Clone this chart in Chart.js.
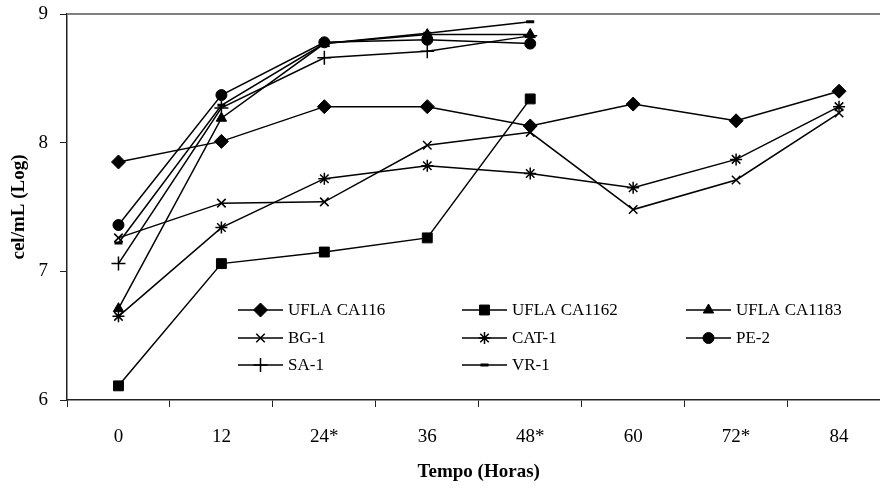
<!DOCTYPE html>
<html>
<head>
<meta charset="utf-8">
<title>cel/mL (Log)</title>
<script src="https://cdn.jsdelivr.net/npm/chart.js@4"></script>
<style>
  html, body { margin: 0; padding: 0; background: #fff; overflow: hidden; }
  #wrap { width: 880px; height: 491px; overflow: hidden; }
</style>
</head>
<body>
<div id="wrap"><canvas id="growth-chart" width="899" height="491"></canvas></div>
<script>
// sampling times (h)
var tempos = ['0', '12', '24*', '36', '48*', '60', '72*', '84'];
var yTicks = [6, 7, 8, 9];

var ufla116 = [7.85, 8.01, 8.28, 8.28, 8.13, 8.30, 8.17, 8.40];
var ufla1162 = [6.11, 7.06, 7.15, 7.26, 8.34, null, null, null];
var ufla1183 = [6.71, 8.19, 8.77, 8.84, 8.84, null, null, null];
var bg1 = [7.26, 7.53, 7.54, 7.98, 8.08, 7.48, 7.71, 8.23];
var cat1 = [6.65, 7.34, 7.72, 7.82, 7.76, 7.65, 7.87, 8.28];
var pe2 = [7.36, 8.37, 8.78, 8.80, 8.77, null, null, null];
var sa1 = [7.06, 8.27, 8.66, 8.71, 8.83, null, null, null];
var vr1 = [7.22, 8.29, 8.77, 8.85, 8.94, null, null, null];

var serif = "'Liberation Serif', 'Times New Roman', serif";

function serie(label, values, style, radius, bw) {
  return {
    label: label,
    data: values,
    borderColor: '#000',
    backgroundColor: '#000',
    borderWidth: 1.5,
    tension: 0,
    pointStyle: style,
    pointRadius: radius,
    pointBorderWidth: bw,
    pointBackgroundColor: '#000',
    pointBorderColor: '#000'
  };
}

var datasets = [
  serie('UFLA CA116', ufla116, 'rectRot', 7, 1),
  serie('UFLA CA1162', ufla1162, 'rect', 7, 1),
  serie('UFLA CA1183', ufla1183, 'triangle', 6, 1),
  serie('BG-1', bg1, 'crossRot', 6, 1.5),
  serie('CAT-1', cat1, 'star', 6, 1.5),
  serie('PE-2', pe2, 'circle', 5.5, 1),
  serie('SA-1', sa1, 'cross', 7, 1.5),
  serie('VR-1', vr1, 'line', 4, 3)
];

// gray frame line along the top of the plot
var topLine = {
  id: 'topLine',
  beforeDatasetsDraw: function (chart) {
    var ctx = chart.ctx, a = chart.chartArea;
    ctx.save();
    ctx.strokeStyle = '#808080';
    ctx.lineWidth = 2;
    ctx.beginPath();
    ctx.moveTo(a.left, a.top);
    ctx.lineTo(a.right, a.top);
    ctx.stroke();
    ctx.restore();
  }
};

// legend inside the plot, three columns
var boxLegend = {
  id: 'boxLegend',
  afterDraw: function (chart) {
    var ctx = chart.ctx;
    var colX = [238, 462, 686];
    var rowY = [310, 338, 365];
    ctx.save();
    ctx.font = '17px ' + serif;
    ctx.textBaseline = 'middle';
    chart.data.datasets.forEach(function (ds, i) {
      var x = colX[i % 3], y = rowY[Math.floor(i / 3)];
      ctx.strokeStyle = '#000';
      ctx.fillStyle = '#000';
      ctx.lineWidth = 1.5;
      ctx.beginPath();
      ctx.moveTo(x, y);
      ctx.lineTo(x + 45, y);
      ctx.stroke();
      ctx.lineWidth = ds.pointBorderWidth;
      Chart.helpers.drawPoint(ctx, {
        pointStyle: ds.pointStyle,
        radius: ds.pointRadius,
        borderWidth: ds.pointBorderWidth,
        rotation: 0
      }, x + 22.5, y);
      ctx.fillStyle = '#000';
      ctx.fillText(ds.label, x + 50, y + 1);
    });
    ctx.restore();
  }
};

var chart = new Chart(document.getElementById('growth-chart').getContext('2d'), {
  type: 'line',
  data: {
    labels: tempos,
    datasets: datasets
  },
  plugins: [topLine, boxLegend],
  options: {
    responsive: false,
    animation: false,
    devicePixelRatio: 1,
    layout: {
      padding: { top: 14, right: 2, bottom: 0, left: 0 }
    },
    plugins: {
      legend: { display: false },
      tooltip: { enabled: false }
    },
    scales: {
      x: {
        offset: true,
        afterFit: function (scale) { scale.height = 91; },
        grid: {
          offset: true,
          drawOnChartArea: false,
          tickLength: 7,
          color: '#222',
          lineWidth: 1
        },
        border: { color: '#222', width: 1.5 },
        ticks: {
          color: '#000',
          padding: 19,
          font: { family: serif, size: 19 }
        },
        title: {
          display: true,
          text: 'Tempo (Horas)',
          color: '#000',
          padding: { top: 0, bottom: 8 },
          font: { family: serif, size: 19, weight: 'bold' }
        }
      },
      y: {
        min: 6,
        max: 9,
        afterFit: function (scale) {
          scale.width = 67;
          scale.paddingTop = 0;
          scale.paddingBottom = 0;
        },
        afterBuildTicks: function (scale) {
          scale.ticks = yTicks.map(function (v) { return { value: v }; });
        },
        grid: {
          drawOnChartArea: false,
          tickLength: 7,
          color: '#222',
          lineWidth: 1
        },
        border: { color: '#222', width: 1.5 },
        ticks: {
          color: '#000',
          padding: 12,
          font: { family: serif, size: 19 }
        },
        title: {
          display: true,
          text: 'cel/mL (Log)',
          color: '#000',
          padding: { top: 8, bottom: 0 },
          font: { family: serif, size: 19, weight: 'bold' }
        }
      }
    }
  }
});
</script>
</body>
</html>
